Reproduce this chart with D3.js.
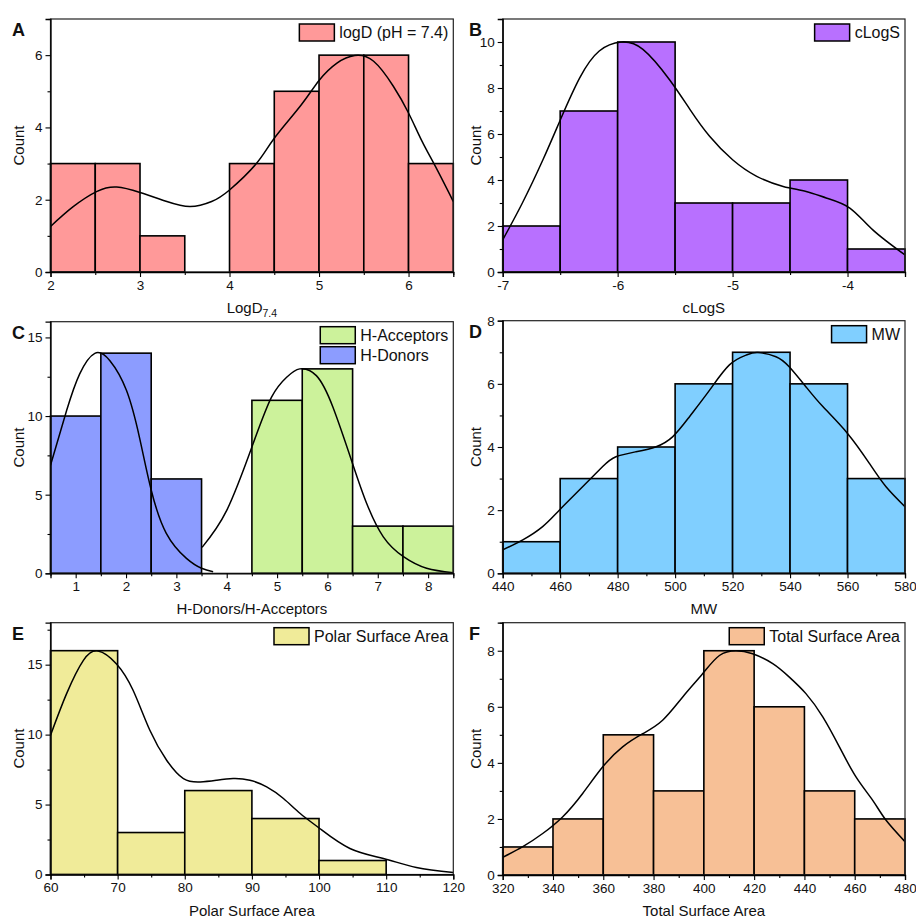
<!DOCTYPE html>
<html>
<head>
<meta charset="utf-8">
<script src="https://cdn.jsdelivr.net/npm/d3@7"></script>
<style>
  body { margin: 0; background: #fff; }
  text { font-family: "Liberation Sans", Arial, sans-serif; }
</style>
</head>
<body>
<div id="chart"></div>
<script>
// ---- data ----
// A: logD
const logDBins = [2, 2.5, 3, 3.5, 4, 4.5, 5, 5.5, 6];
const logDCounts = [3, 3, 1, 0, 3, 5, 6, 6, 3];
const logDCurve = [[2.0, 1.26], [2.25, 1.8], [2.52, 2.23], [2.74, 2.35], [3.0, 2.2], [3.3, 1.95], [3.56, 1.81], [3.8, 1.95],
  [4.0, 2.27], [4.3, 3.0], [4.5, 3.7], [4.8, 4.62], [5.0, 5.3], [5.2, 5.78], [5.40, 5.99], [5.61, 5.83],
  [5.83, 5.14], [6.0, 4.4], [6.15, 3.62], [6.3, 2.92], [6.5, 1.95]];

// B: cLogS
const cLogSBins = [-7, -6.5, -6, -5.5, -5, -4.5, -4];
const cLogSCounts = [2, 7, 10, 3, 3, 4, 1];
const cLogSCurve = [[-7, 1.40], [-6.83, 2.99], [-6.65, 4.88], [-6.5, 6.6], [-6.33, 8.44], [-6.16, 9.61], [-5.97, 10.0],
  [-5.78, 9.68], [-5.55, 8.37], [-5.37, 7.06], [-5.2, 5.9], [-5.0, 4.88], [-4.79, 4.16], [-4.56, 3.72],
  [-4.36, 3.5], [-4.18, 3.21], [-3.98, 2.78], [-3.78, 1.83], [-3.5, 0.74]];

// C: H-donors / H-acceptors
const donorBins = [0.5, 1.5, 2.5];
const donorCounts = [10, 14, 6];
const acceptorBins = [4.5, 5.5, 6.5, 7.5];
const acceptorCounts = [11, 13, 3, 3];
const donorCurve = [[0.5, 6.87], [0.82, 10.35], [1.08, 12.68], [1.38, 13.99], [1.68, 13.52], [2.01, 11.62], [2.27, 8.6],
  [2.5, 5.3], [2.8, 2.54], [3.2, 0.95], [3.5, 0.32], [3.73, 0.1]];
const acceptorCurve = [[3.51, 1.65], [4.0, 4.0], [4.5, 8.03], [4.89, 11.2], [5.19, 12.47], [5.45, 13.0], [5.78, 12.57],
  [6.11, 10.56], [6.5, 6.97], [6.78, 4.44], [7.11, 2.32], [7.51, 1.06], [7.97, 0.32], [8.5, 0.04]];

// D: MW
const mwBins = [440, 460, 480, 500, 520, 540, 560];
const mwCounts = [1, 3, 4, 6, 7, 6, 3];
const mwCurve = [[440, 0.74], [447, 1.06], [453.9, 1.48], [459.7, 2.0], [467.8, 2.74], [474.8, 3.38], [479.4, 3.69],
  [486.4, 3.85], [493.4, 4.01], [499.2, 4.33], [505, 4.96], [512, 5.8], [518.9, 6.6], [524.7, 6.91], [528.8, 6.99],
  [535.1, 6.86], [539.7, 6.54], [545.5, 5.91], [551.4, 5.28], [560, 4.43], [567.6, 3.48], [573.4, 2.74], [580, 2.11]];

// E: polar surface area
const psaBins = [60, 70, 80, 90, 100, 110];
const psaCounts = [16, 3, 6, 4, 1, 0];
const psaCurve = [[60, 9.95], [62.4, 12.93], [64.9, 15.31], [67.1, 15.98], [69.8, 15.07], [72.3, 13.17], [74.8, 10.31],
  [77.3, 8.17], [79.8, 6.86], [82.3, 6.62], [84.7, 6.74], [87.2, 6.86], [89.7, 6.74], [92.2, 6.26], [94.7, 5.43],
  [97.2, 4.36], [100.1, 3.29], [104.6, 1.86], [109.6, 1.14], [114.5, 0.5], [120, 0.14]];

// F: total surface area
const tsaBins = [320, 340, 360, 380, 400, 420, 440, 460];
const tsaCounts = [1, 2, 5, 3, 8, 6, 3, 2];
const tsaCurve = [[320, 0.63], [328, 1.01], [335.9, 1.48], [343.9, 2.08], [351.8, 2.91], [359.8, 3.86], [367.7, 4.57],
  [375.7, 5.04], [383.6, 5.52], [391.6, 6.35], [399.5, 7.18], [406.2, 7.83], [412.8, 8.0], [419.4, 7.89],
  [427.4, 7.54], [434, 7.06], [440.6, 6.47], [447.3, 5.64], [453.9, 4.57], [460.5, 3.5], [467.1, 2.67],
  [472.4, 1.96], [480, 1.19]];

const panels = [
  {letter: "A", box: [50.5, 19, 453.3, 272], xDom: [2, 6.5], yDom: [0, 7],
   xTicks: [2, 3, 4, 5, 6], xMinor: [2.5, 3.5, 4.5, 5.5, 6.5], yTicks: [0, 2, 4, 6], yMinor: [1, 3, 5, 7],
   xLabel: ["LogD", "7.4"],
   series: [{name: "logD (pH = 7.4)", bins: logDBins, counts: logDCounts, width: 0.5, color: "#ff9999", curve: logDCurve}]},
  {letter: "B", box: [502.7, 19, 905, 272], xDom: [-7, -3.5], yDom: [0, 11],
   xTicks: [-7, -6, -5, -4], xMinor: [-6.5, -5.5, -4.5, -3.5], yTicks: [0, 2, 4, 6, 8, 10], yMinor: [1, 3, 5, 7, 9, 11],
   xLabel: ["cLogS"],
   series: [{name: "cLogS", bins: cLogSBins, counts: cLogSCounts, width: 0.5, color: "#b870ff", curve: cLogSCurve}]},
  {letter: "C", box: [50.5, 321.7, 453.3, 573.3], xDom: [0.5, 8.5], yDom: [0, 16],
   xTicks: [1, 2, 3, 4, 5, 6, 7, 8], xMinor: [0.5, 1.5, 2.5, 3.5, 4.5, 5.5, 6.5, 7.5, 8.5], yTicks: [0, 5, 10, 15], yMinor: [2.5, 7.5, 12.5],
   xLabel: ["H-Donors/H-Acceptors"],
   series: [
     {name: "H-Acceptors", bins: acceptorBins, counts: acceptorCounts, width: 1, color: "#ccf29b", curve: acceptorCurve},
     {name: "H-Donors", bins: donorBins, counts: donorCounts, width: 1, color: "#8c9cff", curve: donorCurve}]},
  {letter: "D", box: [502.7, 320.7, 905, 573.3], xDom: [440, 580], yDom: [0, 8],
   xTicks: [440, 460, 480, 500, 520, 540, 560, 580], xMinor: [450, 470, 490, 510, 530, 550, 570], yTicks: [0, 2, 4, 6, 8], yMinor: [1, 3, 5, 7],
   xLabel: ["MW"],
   series: [{name: "MW", bins: mwBins, counts: mwCounts, width: 20, color: "#80cfff", curve: mwCurve}]},
  {letter: "E", box: [50.5, 622.7, 453.3, 874.5], xDom: [60, 120], yDom: [0, 18],
   xTicks: [60, 70, 80, 90, 100, 110, 120], xMinor: [65, 75, 85, 95, 105, 115], yTicks: [0, 5, 10, 15], yMinor: [2.5, 7.5, 12.5, 17.5],
   xLabel: ["Polar Surface Area"],
   series: [{name: "Polar Surface Area", bins: psaBins, counts: psaCounts, width: 10, color: "#f0eb99", curve: psaCurve}]},
  {letter: "F", box: [502.7, 622.7, 905, 875], xDom: [320, 480], yDom: [0, 9],
   xTicks: [320, 340, 360, 380, 400, 420, 440, 460, 480], xMinor: [330, 350, 370, 390, 410, 430, 450, 470], yTicks: [0, 2, 4, 6, 8], yMinor: [1, 3, 5, 7, 9],
   xLabel: ["Total Surface Area"],
   series: [{name: "Total Surface Area", bins: tsaBins, counts: tsaCounts, width: 20, color: "#f7c096", curve: tsaCurve}]}
];

const svg = d3.select("#chart").append("svg")
  .attr("width", 916).attr("height", 918);

panels.forEach((p, i) => {
  const [x0, y0, x1, y1] = p.box;
  const x = d3.scaleLinear().domain(p.xDom).range([x0, x1]);
  const y = d3.scaleLinear().domain(p.yDom).range([y1, y0]);
  const g = svg.append("g");

  const clipId = "clip" + i;
  svg.append("clipPath").attr("id", clipId)
    .append("rect").attr("x", x0).attr("y", y0).attr("width", x1 - x0).attr("height", y1 - y0);

  // bars
  p.series.forEach(s => {
    g.append("g").selectAll("rect")
      .data(s.bins.map((b, j) => ({b, c: s.counts[j]})).filter(d => d.c > 0))
      .join("rect")
      .attr("x", d => x(d.b))
      .attr("width", d => x(d.b + s.width) - x(d.b))
      .attr("y", d => y(d.c))
      .attr("height", d => y(0) - y(d.c))
      .attr("fill", s.color)
      .attr("stroke", "#000")
      .attr("stroke-width", 1.6);
  });

  // distribution curves
  const line = d3.line().x(d => x(d[0])).y(d => y(d[1])).curve(d3.curveNatural);
  p.series.forEach(s => {
    g.append("path").datum(s.curve)
      .attr("clip-path", `url(#${clipId})`)
      .attr("fill", "none").attr("stroke", "#000").attr("stroke-width", 1.5)
      .attr("d", line);
  });

  // frame
  g.append("rect").attr("x", x0).attr("y", y0).attr("width", x1 - x0).attr("height", y1 - y0)
    .attr("fill", "none").attr("stroke", "#222").attr("stroke-width", 1.2);

  // axes
  const xAxis = g.append("g").attr("transform", `translate(0,${y1})`)
    .call(d3.axisBottom(x).tickValues(p.xTicks).tickSize(5).tickPadding(3).tickFormat(d3.format("")));
  g.append("g").attr("transform", `translate(0,${y1})`)
    .call(d3.axisBottom(x).tickValues(p.xMinor).tickSize(3).tickFormat(""))
    .call(a => a.select(".domain").remove());
  const yAxis = g.append("g").attr("transform", `translate(${x0},0)`)
    .call(d3.axisLeft(y).tickValues(p.yTicks).tickSize(5).tickPadding(3).tickFormat(d3.format("")));
  g.append("g").attr("transform", `translate(${x0},0)`)
    .call(d3.axisLeft(y).tickValues(p.yMinor).tickSize(3).tickFormat(""))
    .call(a => a.select(".domain").remove());
  g.selectAll(".domain").attr("stroke", "#000").attr("stroke-width", 1.3);
  g.selectAll(".tick line").attr("stroke", "#000").attr("stroke-width", 1.1);
  [xAxis, yAxis].forEach(a => a.selectAll("text")
    .attr("font-size", 13.5).attr("fill", "#111")
    .attr("font-family", '"Liberation Sans", Arial, sans-serif')
    .text(function () { return this.textContent.replace("\u2212", "-"); }));

  // axis titles
  const xt = g.append("text")
    .attr("x", (x0 + x1) / 2).attr("y", y1 + 41)
    .attr("text-anchor", "middle").attr("font-size", 15).attr("fill", "#111")
    .text(p.xLabel[0]);
  if (p.xLabel[1]) {
    xt.append("tspan").attr("dy", 4).attr("font-size", 10.5).text(p.xLabel[1]);
  }
  const yx = i % 2 === 0 ? x0 - 32 : x0 - 27;
  g.append("text")
    .attr("transform", `translate(${yx + 5},${(y0 + y1) / 2}) rotate(-90)`)
    .attr("text-anchor", "middle").attr("font-size", 15).attr("fill", "#111")
    .text("Count");

  // panel letter
  g.append("text")
    .attr("x", i % 2 === 0 ? 12 : 469).attr("y", y0 + 17)
    .attr("font-size", 18).attr("font-weight", "bold").attr("fill", "#111")
    .text(p.letter);

  // legend, right aligned
  const lg = g.append("g");
  const labels = p.series.map((s, j) => lg.append("text")
    .attr("y", y0 + 5 + j * 20 + 14)
    .attr("font-size", 16).attr("fill", "#111")
    .text(s.name));
  const tw = d3.max(labels, t => t.node().getComputedTextLength());
  const tx = x1 - 5 - tw;
  labels.forEach(t => t.attr("x", tx));
  p.series.forEach((s, j) => {
    lg.append("rect")
      .attr("x", tx - 5 - 35).attr("y", y0 + 5 + j * 20)
      .attr("width", 35).attr("height", 17)
      .attr("fill", s.color).attr("stroke", "#000").attr("stroke-width", 1.5);
  });
});
</script>
</body>
</html>
